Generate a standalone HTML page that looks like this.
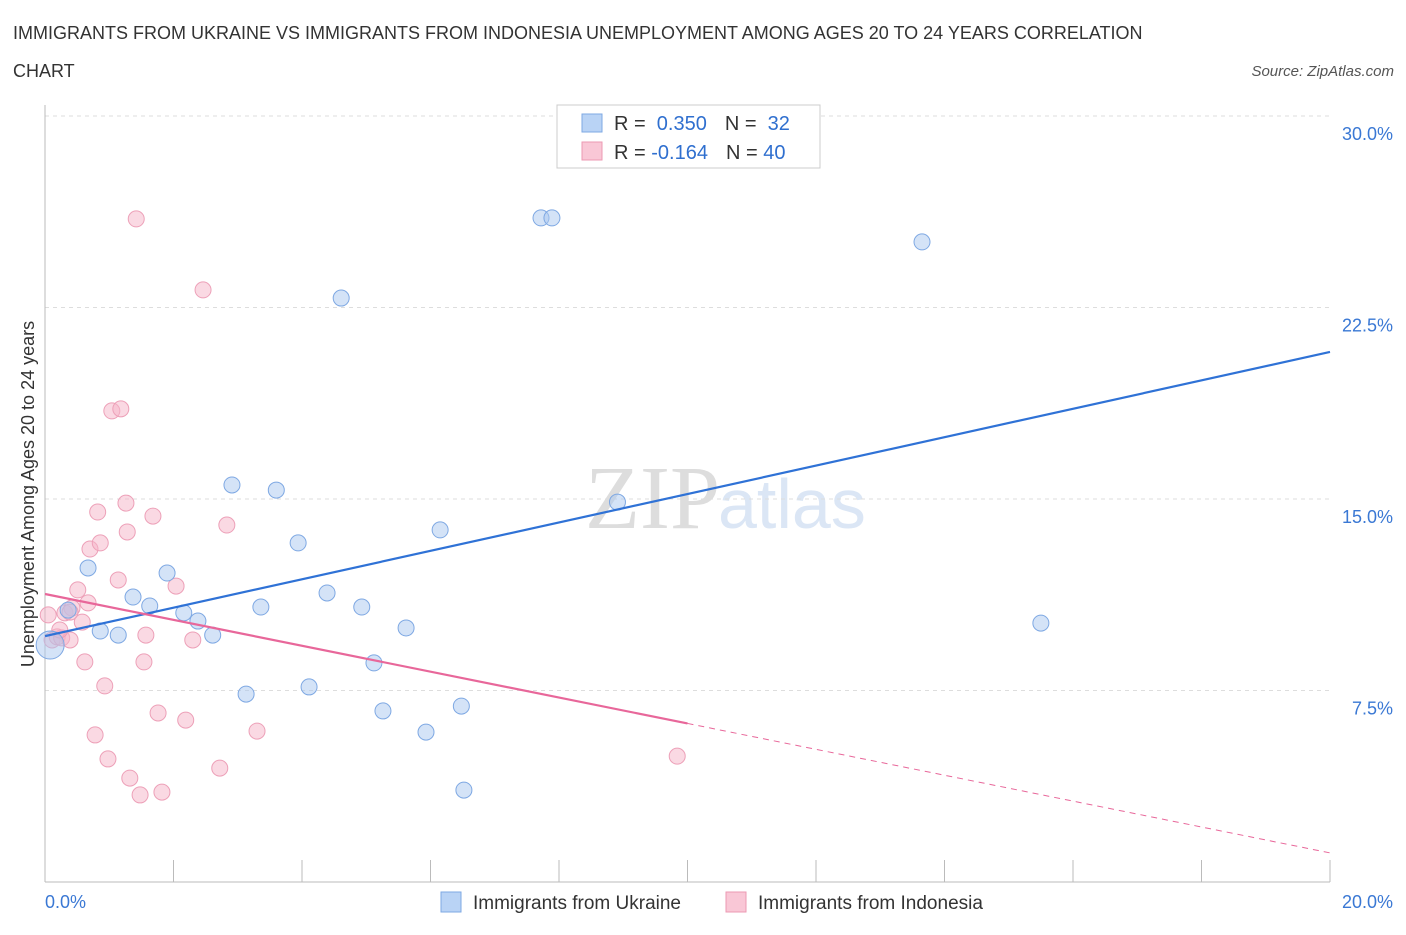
<!DOCTYPE html>
<html><head><meta charset="utf-8"><style>
body{margin:0;background:#fff;font-family:"Liberation Sans",sans-serif;}
</style></head><body>
<svg width="1406" height="930" xmlns="http://www.w3.org/2000/svg" font-family="Liberation Sans, sans-serif">
<text x="13" y="39" font-size="18" fill="#333">IMMIGRANTS FROM UKRAINE VS IMMIGRANTS FROM INDONESIA UNEMPLOYMENT AMONG AGES 20 TO 24 YEARS CORRELATION</text>
<text x="13" y="77" font-size="18" fill="#333">CHART</text>
<text x="1394" y="76" font-size="15" fill="#555" font-style="italic" text-anchor="end">Source: ZipAtlas.com</text>
<text x="720" y="528" font-size="90" fill="#ddd" text-anchor="end" font-family="Liberation Serif, serif">ZIP</text>
<text x="718" y="528" font-size="70" fill="#dbe6f5">atlas</text>
<g id="grid"></g>
<g id="axes"></g>
<text transform="translate(34,494) rotate(-90)" font-size="18" fill="#333" text-anchor="middle">Unemployment Among Ages 20 to 24 years</text>
<g id="marks"></g>
<g>
<rect x="557" y="105" width="263" height="63" fill="#fff" stroke="#ccc"/>
<rect x="582" y="114" width="20" height="18" fill="#b9d3f5" stroke="#7ea8e3"/>
<rect x="582" y="142" width="20" height="18" fill="#f9c7d6" stroke="#ec9ab3"/>
<text x="614" y="130" font-size="20" fill="#333">R = <tspan fill="#2f6fcf">&#160;0.350</tspan><tspan dx="18" fill="#333">N = </tspan><tspan fill="#2f6fcf">&#160;32</tspan></text>
<text x="614" y="159" font-size="20" fill="#333">R = <tspan fill="#2f6fcf">-0.164</tspan><tspan dx="18" fill="#333">N = </tspan><tspan fill="#2f6fcf">40</tspan></text>
</g>
<g>
<rect x="441" y="892" width="20" height="20" fill="#b9d3f5" stroke="#7ea8e3"/>
<text x="473" y="909" font-size="19" fill="#333">Immigrants from Ukraine</text>
<rect x="726" y="892" width="20" height="20" fill="#f9c7d6" stroke="#ec9ab3"/>
<text x="758" y="909" font-size="19" fill="#333">Immigrants from Indonesia</text>
</g>
</svg>
<script>
const blueX=[0.08,0.36,0.67,0.86,1.14,1.37,1.63,1.90,2.16,2.38,2.61,2.91,3.13,3.36,3.60,3.94,4.11,4.39,4.61,4.93,5.12,5.26,5.62,5.93,6.15,6.48,6.52,7.72,7.89,8.91,13.65,15.50];
const blueY=[9.28,10.65,12.30,9.83,9.67,11.16,10.81,12.10,10.54,10.22,9.67,15.55,7.36,10.77,15.35,13.28,7.64,11.32,22.87,10.77,8.58,6.70,9.95,5.87,13.79,6.89,3.60,26.01,26.01,14.88,25.07,10.14];
const pinkX=[0.05,0.11,0.19,0.26,0.31,0.39,0.42,0.51,0.58,0.62,0.67,0.70,0.78,0.86,0.82,0.93,0.98,1.04,1.14,1.18,1.26,1.28,1.32,1.42,1.48,1.54,1.57,1.68,1.76,1.82,2.04,2.19,2.30,2.46,2.72,2.83,3.30,9.84,0.23,0.39];
const pinkY=[10.46,9.48,9.60,9.56,10.54,9.48,10.73,11.44,10.18,8.62,10.93,13.04,5.76,13.28,14.49,7.68,4.82,18.45,11.83,18.53,14.84,13.71,4.07,25.97,3.41,8.62,9.67,14.33,6.62,3.52,11.59,6.34,9.48,23.19,4.46,13.98,5.91,4.93,9.87,10.57];
const blueTrend=[9.63,20.76];
const pinkTrend=[11.28,1.14];
const yTicks=[7.5,15,22.5,30];
const yTickLabels=["7.5%","15.0%","22.5%","30.0%"];
const xTickVals=[0,2,4,6,8,10,12,14,16,18,20];
const NS="http://www.w3.org/2000/svg";
const X=v=>45+v*64.25;
const Y=v=>882-v*25.533;
function mk(t,a,p){const e=document.createElementNS(NS,t);for(const k in a)e.setAttribute(k,a[k]);p.appendChild(e);return e;}
const grid=document.getElementById('grid'),axes=document.getElementById('axes'),marks=document.getElementById('marks');
yTicks.forEach((v,i)=>{
 const l=mk('line',{x1:45,x2:1330,y1:Y(v),y2:Y(v),stroke:'#ddd','stroke-dasharray':'4,4'},grid);
 
 
 const t=mk('text',{x:1393,y:Y(v)+24,'font-size':18,fill:'#3a78d4','text-anchor':'end'},axes);
 t.textContent=yTickLabels[i];
 
 
});
mk('line',{x1:45,x2:45,y1:105,y2:882,stroke:'#bbb'},axes);
mk('line',{x1:45,x2:1330,y1:882,y2:882,stroke:'#bbb'},axes);
xTickVals.forEach(v=>{
 const l=mk('line',{x1:X(v),x2:X(v),y1:860,y2:882,stroke:'#bbb'},axes);
 
 
});
const x0=mk('text',{x:45,y:908,'font-size':18,fill:'#3a78d4'},axes);x0.textContent='0.0%';


const x1=mk('text',{x:1393,y:908,'font-size':18,fill:'#3a78d4','text-anchor':'end'},axes);x1.textContent='20.0%';


pinkX.forEach((x,i)=>{
 const c=mk('circle',{cx:X(x),cy:Y(pinkY[i]),r:8,fill:'rgba(246,180,200,0.5)',stroke:'#eda0b8','stroke-width':1},marks);
 
 
});
blueX.forEach((x,i)=>{
 const c=mk('circle',{cx:X(x),cy:Y(blueY[i]),r:i===0?14:8,fill:'rgba(170,200,240,0.5)',stroke:'#7ea8e3','stroke-width':1},marks);
 
 
});
const bl=mk('line',{x1:X(0),y1:Y(blueTrend[0]),x2:X(20),y2:Y(blueTrend[1]),stroke:'#2f72d6','stroke-width':2.2},marks);


const pm=(pinkTrend[0]+pinkTrend[1])/2;
const pl=mk('line',{x1:X(0),y1:Y(pinkTrend[0]),x2:X(10),y2:Y(pm),stroke:'#e8679a','stroke-width':2.2},marks);


const pd=mk('line',{x1:X(10),y1:Y(pm),x2:X(20),y2:Y(pinkTrend[1]),stroke:'#e8679a','stroke-width':1,'stroke-dasharray':'6,5'},marks);


</script>
</body></html>
